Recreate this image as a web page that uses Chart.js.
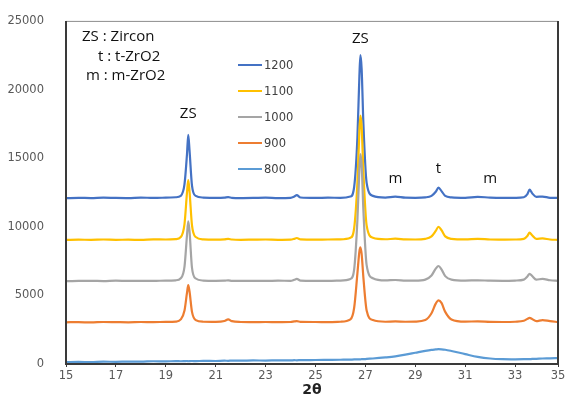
<!DOCTYPE html>
<html>
<head>
<meta charset="utf-8">
<script src="https://cdn.jsdelivr.net/npm/chart.js@4.4.1/dist/chart.umd.min.js"></script>
<style>
    html, body { margin: 0; padding: 0; background: #fff; }
    #wrap { width: 569px; height: 399px; position: relative; }
</style>
</head>
<body>
<div id="wrap"><canvas id="xrd"></canvas></div>
<script>
// 2-theta grid (denser around the peaks)
const twoTheta = [15, 15.5, 16, 16.5, 17, 17.5, 18, 18.5, 19, 19.4,
    19.6, 19.75, 19.85, 19.9, 19.95, 20.05, 20.2, 20.5, 21, 21.35,
    21.5, 21.65, 22, 22.5, 23, 23.5, 24, 24.15, 24.25, 24.4,
    25, 25.5, 26, 26.4, 26.55, 26.68, 26.76, 26.8, 26.85, 26.92,
    27.05, 27.3, 27.8, 28.2, 28.6, 29, 29.4, 29.65, 29.82, 29.93,
    30.05, 30.2, 30.45, 31, 31.5, 32, 32.5, 33, 33.35, 33.5,
    33.58, 33.68, 33.85, 34.1, 34.4, 34.72];

const labels = ["1200", "1100", "1000", "900", "800"];
const colors = ["#4472C4", "#FFC000", "#A5A5A5", "#ED7D31", "#5B9BD5"];

const i1200 = [12080, 12110, 12090, 12120, 12100, 12090, 12130, 12100, 12120, 12150,
    12250, 13100, 15300, 16700, 15600, 13000, 12250, 12130, 12100, 12120,
    12160, 12110, 12090, 12100, 12120, 12090, 12110, 12200, 12300, 12130,
    12100, 12120, 12110, 12200, 12900, 16500, 21000, 22500, 21500, 17500,
    13200, 12250, 12130, 12200, 12120, 12110, 12140, 12250, 12550, 12850,
    12600, 12250, 12140, 12110, 12180, 12120, 12100, 12110, 12150, 12400,
    12700, 12450, 12180, 12200, 12110, 12100];
const i1100 = [9040, 9060, 9050, 9070, 9050, 9060, 9040, 9080, 9070, 9100,
    9250, 10200, 12500, 13400, 12600, 10100, 9250, 9080, 9060, 9080,
    9110, 9070, 9050, 9060, 9070, 9050, 9060, 9120, 9180, 9080,
    9060, 9070, 9080, 9200, 9900, 13200, 17000, 18100, 17300, 14000,
    10100, 9200, 9090, 9130, 9080, 9070, 9120, 9300, 9700, 10000,
    9750, 9300, 9120, 9080, 9120, 9070, 9060, 9070, 9120, 9350,
    9570, 9380, 9120, 9150, 9070, 9050];
const i1000 = [6040, 6050, 6060, 6040, 6070, 6050, 6060, 6050, 6080, 6100,
    6250, 7100, 9400, 10400, 9700, 7000, 6230, 6080, 6060, 6070,
    6100, 6060, 6050, 6060, 6050, 6070, 6060, 6140, 6200, 6080,
    6060, 6050, 6080, 6200, 6900, 10500, 14200, 15300, 14500, 11200,
    7200, 6250, 6090, 6120, 6080, 6070, 6150, 6450, 6950, 7140,
    6900, 6400, 6150, 6080, 6100, 6070, 6060, 6080, 6150, 6400,
    6570, 6420, 6150, 6200, 6100, 6060];
const i900 = [3040, 3050, 3030, 3060, 3050, 3040, 3060, 3050, 3070, 3090,
    3250, 3900, 5200, 5750, 5300, 3800, 3200, 3080, 3070, 3130,
    3250, 3120, 3060, 3050, 3060, 3050, 3060, 3100, 3120, 3070,
    3060, 3050, 3080, 3250, 4100, 6600, 8200, 8500, 8000, 6300,
    3900, 3200, 3080, 3100, 3080, 3090, 3200, 3700, 4400, 4640,
    4450, 3800, 3250, 3090, 3100, 3070, 3060, 3080, 3150, 3300,
    3360, 3280, 3120, 3200, 3120, 3060];
const i800 = [130, 150, 140, 170, 160, 180, 170, 200, 190, 210,
    200, 210, 220, 200, 210, 220, 210, 230, 220, 240,
    230, 250, 240, 260, 250, 270, 260, 280, 270, 280,
    290, 300, 310, 320, 330, 330, 340, 340, 350, 350,
    370, 400, 480, 560, 680, 820, 960, 1030, 1060, 1080,
    1070, 1040, 950, 720, 520, 400, 350, 340, 350, 360,
    350, 370, 380, 400, 410, 430];

const series = [i1200, i1100, i1000, i900, i800];

const xTicks = [15, 17, 19, 21, 23, 25, 27, 29, 31, 33];
const xEnd = 34.72; // right end of the axis, labelled "35" in the source

// phase markers above the peaks
const peakTags = [
    { text: "ZS", x: 19.9, y: 17900 },
    { text: "ZS", x: 26.8, y: 23400 },
    { text: "m", x: 28.2, y: 13200 },
    { text: "t", x: 29.93, y: 13900 },
    { text: "m", x: 32.0, y: 13200 }
];
const keyLines = ["ZS : Zircon", "t : t-ZrO2", "m : m-ZrO2"];

const TICK_FONT = { family: "DejaVu Sans", size: 11.5 };

const overlay = {
    id: "overlay",
    afterDatasetsDraw(chart) {
        const ctx = chart.ctx;
        const a = chart.chartArea;
        const xs = chart.scales.x, ys = chart.scales.y;
        ctx.save();

        // plot frame
        ctx.strokeStyle = "#8c8c8c";
        ctx.lineWidth = 1;
        ctx.beginPath();
        ctx.moveTo(a.left, a.top + 0.5);
        ctx.lineTo(a.right, a.top + 0.5);
        ctx.stroke();
        ctx.strokeStyle = "#3a3a3a";
        ctx.lineWidth = 2;
        ctx.beginPath();
        ctx.moveTo(a.left, a.top);
        ctx.lineTo(a.left, a.bottom);
        ctx.lineTo(a.right, a.bottom);
        ctx.lineTo(a.right, a.top);
        ctx.stroke();

        // peak labels
        ctx.fillStyle = "#111";
        ctx.font = "15px 'Open Sans'";
        ctx.textAlign = "center";
        ctx.textBaseline = "alphabetic";
        peakTags.forEach(t => ctx.fillText(t.text, xs.getPixelForValue(t.x), ys.getPixelForValue(t.y)));

        // phase key
        ctx.textAlign = "left";
        ctx.fillText(keyLines[0], 82, 41);
        ctx.fillText(keyLines[1], 98, 61);
        ctx.fillText(keyLines[2], 86, 80);

        // series legend
        ctx.font = "11.5px 'DejaVu Sans'";
        ctx.textBaseline = "middle";
        chart.data.datasets.forEach((ds, i) => {
            const y = 65 + i * 26;
            ctx.strokeStyle = ds.borderColor;
            ctx.lineWidth = 2;
            ctx.beginPath();
            ctx.moveTo(238, y);
            ctx.lineTo(262, y);
            ctx.stroke();
            ctx.fillStyle = "#404040";
            ctx.fillText(ds.label, 264, y + 1);
        });
        ctx.restore();
    }
};

new Chart(document.getElementById("xrd"), {
    type: "line",
    data: {
        datasets: series.map((s, i) => ({
            label: labels[i],
            data: s.map((v, k) => ({ x: twoTheta[k], y: v })),
            borderColor: colors[i],
            backgroundColor: colors[i],
            borderWidth: 2.2,
            pointRadius: 0,
            cubicInterpolationMode: "monotone",
            order: 4 - i
        }))
    },
    options: {
        responsive: true,
        maintainAspectRatio: false,
        animation: false,
        layout: { padding: { top: 14, right: 11, left: 0, bottom: 0 } },
        plugins: {
            legend: { display: false },
            tooltip: { enabled: false }
        },
        scales: {
            x: {
                type: "linear",
                min: 15,
                max: xEnd,
                afterBuildTicks: s => { s.ticks = xTicks.concat([xEnd]).map(v => ({ value: v })); },
                afterFit: s => { s.height = 35; },
                grid: { display: true, drawOnChartArea: false, tickLength: 3, color: "#3a3a3a" },
                border: { display: false },
                ticks: {
                    font: TICK_FONT,
                    color: "#595959",
                    padding: 2,
                    maxRotation: 0,
                    autoSkip: false,
                    callback: v => (v === xEnd ? "35" : String(v))
                },
                title: {
                    display: true,
                    text: "2θ",
                    font: { family: "DejaVu Sans", size: 14, weight: "bold" },
                    color: "#222",
                    padding: { top: 0, bottom: 0 }
                }
            },
            y: {
                min: 0,
                max: 25000,
                afterFit: s => { s.width = 66; },
                grid: { display: false },
                border: { display: false },
                ticks: {
                    stepSize: 5000,
                    font: TICK_FONT,
                    color: "#595959",
                    padding: 14,
                    callback: v => String(v)
                }
            }
        }
    },
    plugins: [overlay]
});
</script>
</body>
</html>
